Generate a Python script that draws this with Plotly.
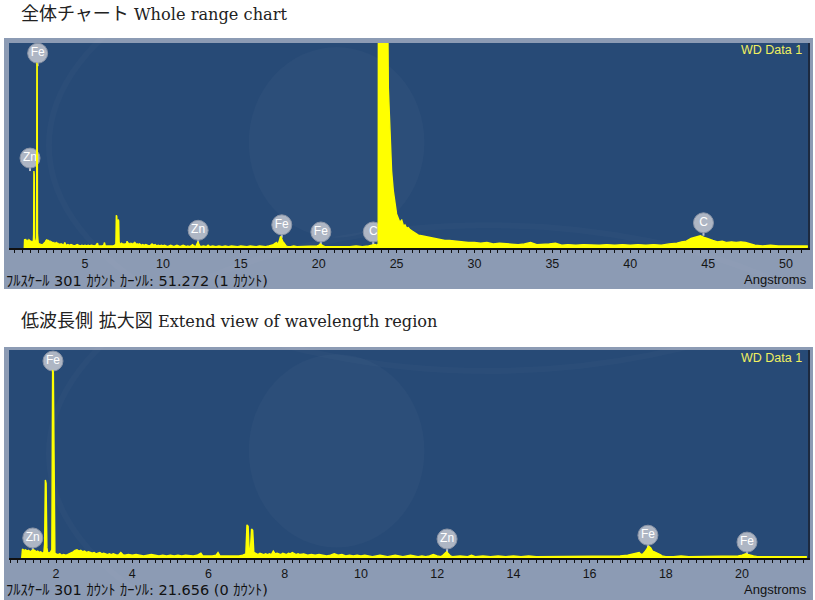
import plotly.graph_objects as go

# ---------------- data ----------------
# spectrum, short-wavelength part (Angstrom, counts)
low_wl = [1.10, 1.12, 1.16, 1.20, 1.24, 1.28, 1.32, 1.36, 1.40, 1.44, 1.48, 1.52, 1.56, 1.60, 1.64, 1.68,
          1.70, 1.72, 1.74, 1.76, 1.78, 1.82, 1.86, 1.89, 1.91, 1.93, 1.95, 1.97,
          2.00, 2.05, 2.10, 2.15, 2.20, 2.25, 2.30, 2.35, 2.40, 2.45, 2.50, 2.55, 2.60, 2.65, 2.70, 2.75,
          2.80, 2.85, 2.90, 2.95, 3.00, 3.05, 3.10, 3.15, 3.20, 3.25, 3.30, 3.35, 3.40, 3.45, 3.50, 3.55,
          3.60, 3.65, 3.70, 3.75, 3.80, 3.90, 4.00, 4.10, 4.20, 4.30, 4.40, 4.50, 4.60, 4.70, 4.80, 4.90,
          5.00, 5.10, 5.20, 5.30, 5.40, 5.50, 5.60, 5.70, 5.80, 5.85, 5.90, 6.00, 6.10, 6.20, 6.25, 6.30,
          6.40, 6.50, 6.60, 6.70, 6.80, 6.90, 6.98, 7.01, 7.04, 7.07, 7.10, 7.13, 7.16, 7.19, 7.25, 7.30,
          7.35, 7.40, 7.45, 7.50, 7.55, 7.60, 7.65, 7.70, 7.75, 7.80, 7.85, 7.90, 7.95, 8.00, 8.05, 8.10,
          8.15, 8.20, 8.25, 8.30, 8.35, 8.40, 8.50, 8.60, 8.70, 8.80, 8.90, 9.00, 9.10, 9.20, 9.30, 9.40,
          9.50, 9.60, 9.70, 9.80, 9.90, 10.00, 10.10, 10.20, 10.30, 10.40, 10.50, 10.60, 10.70, 10.80,
          10.90, 11.00, 11.10, 11.20, 11.30, 11.40, 11.50, 11.60, 11.70, 11.80, 11.90, 12.00, 12.10,
          12.15, 12.20, 12.25, 12.30, 12.35, 12.40, 12.60, 12.80, 12.90, 13.00, 13.20, 13.40, 13.60,
          13.80, 14.00, 14.20, 14.40, 14.60, 14.80, 15.00, 15.20, 15.40, 15.60, 15.80, 16.00, 16.20,
          16.40, 16.60, 16.80, 17.00, 17.10, 17.20, 17.30, 17.35, 17.40, 17.45, 17.50, 17.55, 17.60,
          17.65, 17.70, 17.75, 17.80, 17.85, 17.90, 18.00, 18.20, 18.40, 18.60, 18.80, 19.00, 19.20,
          19.40, 19.50, 19.60, 19.70, 19.80, 19.90, 20.00, 20.05, 20.10, 20.15, 20.20, 20.30, 20.40,
          20.50, 20.70, 21.00, 21.30, 21.70]
low_counts = [0, 13, 11, 12, 10, 11, 9, 10, 12, 11, 9, 10, 8, 9, 7, 8,
              20, 113, 108, 15, 8, 7, 9, 12, 272, 268, 20, 7,
              6, 5, 6, 4, 5, 4, 5, 6, 7, 9, 11, 12, 10, 11, 9, 10,
              8, 9, 8, 7, 8, 6, 7, 8, 6, 7, 6, 5, 6, 5, 6, 5,
              4, 5, 8, 5, 4, 5, 4, 5, 4, 3, 4, 5, 4, 3, 4, 3,
              4, 3, 4, 3, 4, 3, 3, 4, 7, 3, 3, 2, 3, 4, 8, 3,
              3, 3, 2, 3, 3, 4, 6, 48, 46, 8, 12, 42, 40, 8, 6, 5,
              7, 6, 5, 6, 5, 6, 5, 10, 6, 7, 6, 5, 7, 6, 5, 7,
              6, 8, 6, 5, 6, 5, 6, 4, 5, 4, 5, 4, 3, 4, 6, 4,
              5, 3, 4, 3, 4, 3, 4, 3, 2, 3, 4, 3, 2, 3,
              4, 3, 2, 3, 4, 3, 2, 3, 2, 3, 5, 3, 2,
              4, 7, 9, 6, 3, 2, 3, 2, 4, 2, 3, 2, 3,
              2, 3, 2, 3, 2, 2, 3, 2, 2, 3, 2, 2, 3,
              2, 2, 3, 4, 5, 7, 8, 5, 6, 9, 14, 17, 15,
              10, 9, 8, 7, 5, 3, 2, 2, 3, 2, 2, 3, 2,
              2, 3, 3, 2, 3, 3, 4, 5, 6, 5, 4, 3, 2,
              2, 1, 2, 1, 2]

# spectrum, long-wavelength part (only in the whole-range chart)
high_wl = [22.0, 22.4, 22.8, 23.2, 23.4, 23.6, 23.75, 23.82, 23.84, 24.35, 24.47, 24.58, 24.68, 24.79,
           24.90, 25.00, 25.10, 25.20, 25.33, 25.45, 25.54, 25.65, 25.75, 25.86, 26.00, 26.15, 26.30,
           26.40, 26.60, 26.80, 27.00, 27.15, 27.40, 27.60, 27.80, 28.10, 28.40, 28.70, 29.00, 29.30,
           29.60, 30.00, 30.40, 30.80, 31.20, 31.60, 32.00, 32.40, 32.80, 33.20, 33.60, 34.00, 34.40,
           34.80, 35.20, 35.60, 36.00, 36.50, 37.00, 37.50, 38.00, 38.50, 39.00, 39.50, 40.00, 40.50,
           41.00, 41.50, 42.00, 42.50, 43.00, 43.30, 43.60, 43.90, 44.20, 44.50, 44.80, 45.00, 45.30,
           45.60, 45.90, 46.20, 46.50, 46.80, 47.10, 47.40, 47.70, 48.00, 48.50, 49.00, 49.50, 50.00,
           50.50, 51.00, 51.40]
high_counts = [2, 3, 2, 3, 4, 5, 4, 6, 600, 600, 235, 166, 113, 84,
               62, 50, 44, 38, 41, 32, 34, 29, 30, 27, 25, 23, 21,
               19, 18, 17, 16, 15, 14, 13, 12, 11, 11, 10, 9, 9,
               8, 8, 7, 8, 6, 7, 6, 6, 5, 6, 8, 5, 5,
               6, 7, 4, 5, 4, 5, 4, 4, 5, 4, 5, 4, 5,
               4, 5, 4, 6, 7, 9, 10, 14, 16, 18, 15, 13, 11,
               9, 10, 8, 9, 8, 9, 8, 6, 4, 3, 4, 3, 3,
               4, 3, 3]

FULL_SCALE = 301

# element markers
top_label_el = ["Zn", "Fe", "Zn", "Fe", "Fe", "C", "C"]
top_label_wl = [1.47, 1.96, 12.26, 17.63, 20.14, 23.5, 44.7]
top_label_counts = [132, 286, 26, 34, 23.5, 23.5, 37]

bot_label_el = ["Zn", "Fe", "Zn", "Fe", "Fe"]
bot_label_wl = [1.39, 1.92, 12.26, 17.53, 20.13]
bot_label_counts = [29, 285, 27.5, 33, 23]

top_title_jp = "全体チャート"
top_title_en = "Whole range chart"
bot_title_jp = "低波長側 拡大図"
bot_title_en = "Extend view of wavelength region"
top_status = "ﾌﾙｽｹｰﾙ 301 ｶｳﾝﾄ ｶｰｿﾙ: 51.272 (1 ｶｳﾝﾄ)"
bot_status = "ﾌﾙｽｹｰﾙ 301 ｶｳﾝﾄ ｶｰｿﾙ: 21.656 (0 ｶｳﾝﾄ)"
data_name = "WD Data 1"
x_unit = "Angstroms"

# ---------------- figure ----------------
W, H = 815, 600
def px(x):
    return x / W
def py(y):
    return 1 - y / H

PLOT_BG = "#274a76"
BAND = "#8c9bb4"
YELLOW = "#ffff00"
STEM = 19

fig = go.Figure()

def add_labels(el, wl, cnt, xa, ya):
    fig.add_trace(go.Scatter(
        x=wl, y=cnt, text=el, mode="markers+text", xaxis=xa, yaxis=ya,
        marker=dict(size=20, color="#aeb6c4", line=dict(color="#8a94a6", width=1)),
        textfont=dict(family="Liberation Sans", size=12, color="white"),
        textposition="middle center",
        error_y=dict(type="data", symmetric=False, array=[0] * len(wl),
                     arrayminus=[STEM] * len(wl), color="#bcc3cf", thickness=2, width=0),
        hoverinfo="skip", showlegend=False, cliponaxis=False))

def add_spectrum(wl, cnt, xa, ya):
    fig.add_trace(go.Scatter(
        x=wl, y=cnt, mode="lines", xaxis=xa, yaxis=ya,
        line=dict(color=YELLOW, width=1.4), fill="tozeroy", fillcolor=YELLOW,
        hoverinfo="skip", showlegend=False))

add_labels(top_label_el, top_label_wl, top_label_counts, "x", "y")
add_spectrum(low_wl + high_wl, low_counts + high_counts, "x", "y")
add_labels(bot_label_el, bot_label_wl, bot_label_counts, "x2", "y2")
add_spectrum(low_wl, low_counts, "x2", "y2")

tickfont = dict(family="Liberation Sans", size=12.5, color="#151515")
xcommon = dict(showgrid=False, zeroline=False, showline=True, linecolor="#111", linewidth=1.5,
               ticks="outside", ticklen=3, tickcolor="#111", tickwidth=1, tickfont=tickfont,
               fixedrange=True)
ycommon = dict(showgrid=False, zeroline=False, showticklabels=False, showline=True,
               side="right", linecolor="#1c2a40", linewidth=2, ticks="", range=[0, FULL_SCALE],
               fixedrange=True)

fig.update_layout(
    width=W, height=H, margin=dict(l=0, r=0, t=0, b=0),
    paper_bgcolor="white", plot_bgcolor=PLOT_BG, showlegend=False,
    xaxis=dict(domain=[px(9), px(808)], range=[0.12, 51.41], anchor="y",
               tick0=0, dtick=5, minor=dict(tick0=0, dtick=0.5, ticks="outside", ticklen=3,
                                             tickcolor="#111"), **xcommon),
    yaxis=dict(domain=[py(248), py(43)], anchor="x", **ycommon),
    xaxis2=dict(domain=[px(9), px(808)], range=[0.766, 21.73], anchor="y2",
                tick0=0, dtick=2, minor=dict(tick0=0, dtick=0.2, ticks="outside", ticklen=3,
                                              tickcolor="#111"), **xcommon),
    yaxis2=dict(domain=[py(558), py(350)], anchor="x2", **ycommon),
)

def band(x0, x1, y0, y1):
    return dict(type="rect", xref="paper", yref="paper", x0=px(x0), x1=px(x1), y0=py(y1), y1=py(y0),
                fillcolor=BAND, line=dict(width=0), layer="below")

shapes = [
    # frame around the whole-range chart
    band(4, 813, 38, 43), band(4, 9, 43, 248), band(808, 813, 43, 248), band(4, 813, 248, 289),
    # frame around the extended view
    band(4, 813, 347, 350), band(4, 9, 350, 558), band(808, 813, 350, 558), band(4, 813, 558, 600),
]
# faint background swirls inside the plot areas
for xd, yd in (("x domain", "y domain"), ("x2 domain", "y2 domain")):
    shapes.append(dict(type="circle", xref=xd, yref=yd, x0=0.30, x1=0.52, y0=0.05, y1=0.98,
                       fillcolor="rgba(255,255,255,0.025)", line=dict(width=0), layer="below"))
    shapes.append(dict(type="circle", xref=xd, yref=yd, x0=0.05, x1=1.15, y0=-0.6, y1=1.6,
                       fillcolor="rgba(0,0,0,0)", line=dict(width=6, color="rgba(255,255,255,0.02)"),
                       layer="below"))
fig.update_layout(shapes=shapes)

serif = "DejaVu Serif, Noto Sans CJK JP, serif"
status_font = "DejaVu Sans, Noto Sans CJK JP, sans-serif"
ann = []
for title_jp, title_en, yy in ((top_title_jp, top_title_en, 14), (bot_title_jp, bot_title_en, 320)):
    ann.append(dict(text='<span style="font-size:18px">' + title_jp + '</span> ' + title_en,
                    x=px(19), y=py(yy), xanchor="left", yanchor="middle", showarrow=False,
                    font=dict(family=serif, size=16.2, color="#222")))
for status, yy in ((top_status, 281), (bot_status, 590)):
    ann.append(dict(text=status, x=px(4), y=py(yy), xanchor="left", yanchor="middle",
                    showarrow=False, font=dict(family=status_font, size=14.5, color="#111")))
for yy in (279, 589):
    ann.append(dict(text=x_unit, x=px(809), y=py(yy), xanchor="right", yanchor="middle",
                    showarrow=False, font=dict(family="Liberation Sans", size=13, color="#111")))
for yy in (50, 358):
    ann.append(dict(text=data_name, x=px(804), y=py(yy), xanchor="right", yanchor="middle",
                    showarrow=False, font=dict(family="Liberation Sans", size=12.5, color="#f0f060")))
for a in ann:
    a["xref"] = "paper"
    a["yref"] = "paper"
fig.update_layout(annotations=ann)

fig.write_html("out.html")
